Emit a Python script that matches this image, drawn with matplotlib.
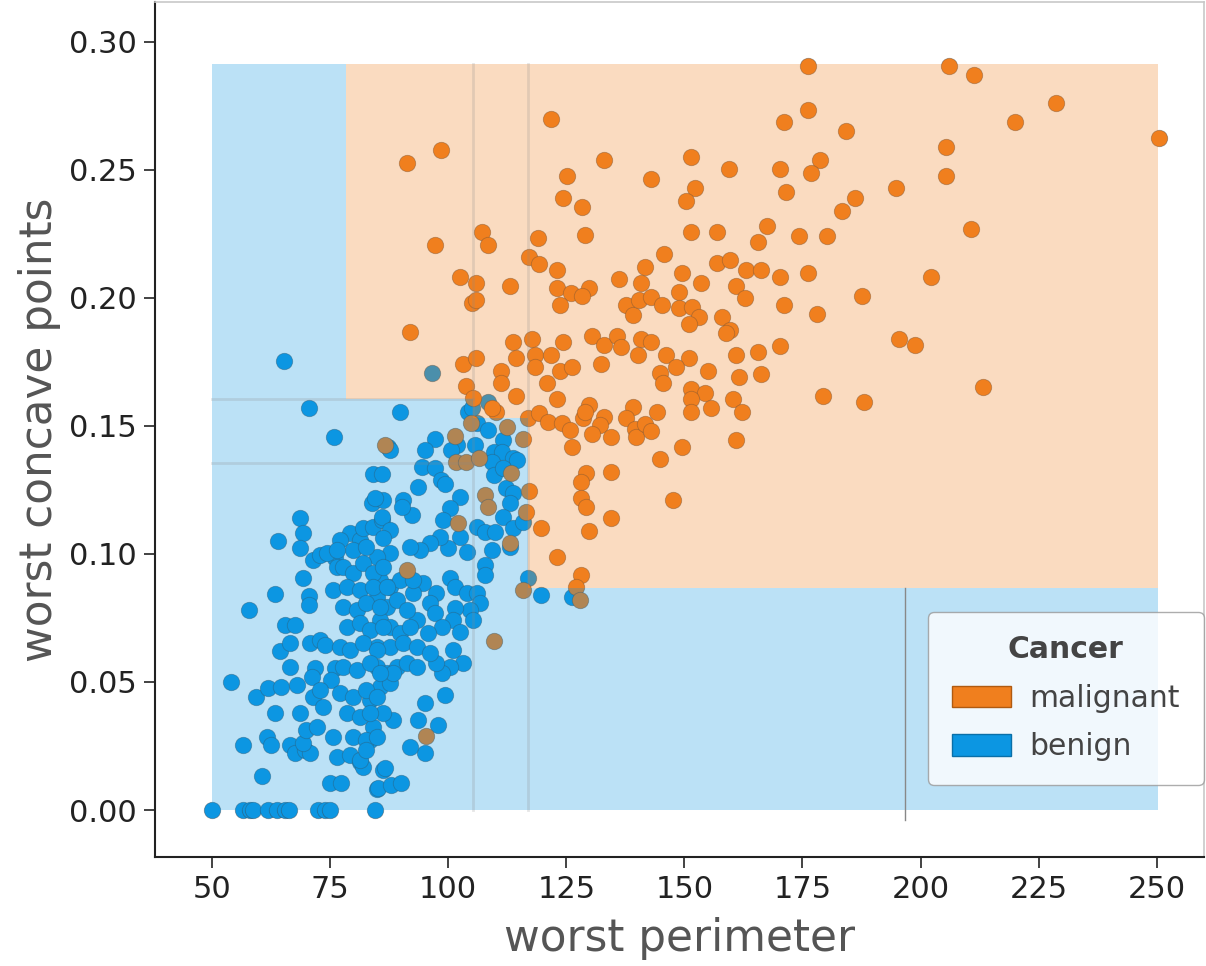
import matplotlib
matplotlib.use("Agg")
import matplotlib.pyplot as plt
from matplotlib.patches import Rectangle, Patch

# ---------------- data ----------------
malignant = [
    (176.2,0.2907),(206.0,0.2907),(211.3,0.2871),(228.6,0.2760),(219.9,0.2686),(250.5,0.2624),
    (176.2,0.2734),(171.1,0.2686),(184.2,0.2650),(205.3,0.2589),(178.8,0.2539),(170.2,0.2504),
    (176.8,0.2487),(205.3,0.2478),(171.6,0.2415),(194.7,0.2428),(186.2,0.2392),(183.4,0.2341),
    (174.2,0.2243),(180.1,0.2243),(210.6,0.2268),(170.2,0.2083),(176.2,0.2099),(202.1,0.2083),
    (187.5,0.2009),(171.1,0.1973),(178.1,0.1936),(195.4,0.1840),(198.8,0.1815),
    (170.2,0.1813),(179.4,0.1617),(188.1,0.1593),(213.3,0.1654),
    (91.2,0.2526),(98.5,0.2576),(121.7,0.2698),(133.0,0.2539),(125.1,0.2478),(151.4,0.2552),
    (143.0,0.2465),(159.5,0.2503),(124.4,0.2392),(128.4,0.2357),(152.2,0.2428),(150.3,0.2379),
    (97.2,0.2207),(107.1,0.2258),(108.5,0.2207),(119.1,0.2233),(129.0,0.2244),(151.5,0.2258),
    (156.8,0.2258),(167.5,0.2281),(165.5,0.2220),(145.6,0.2172),(102.5,0.2083),(105.8,0.2060),
    (113.1,0.2047),(117.2,0.2159),(119.3,0.2133),(123.1,0.2109),(141.6,0.2122),(149.5,0.2096),
    (156.8,0.2135),(159.6,0.2148),(163.0,0.2109),(166.2,0.2109),(136.2,0.2073),(140.9,0.2060),
    (153.5,0.2060),(160.9,0.2048),(162.9,0.1999),(105.1,0.1979),(105.9,0.1992),(123.1,0.2038),
    (126.1,0.2018),(129.8,0.2038),(128.4,0.2009),(123.7,0.1973),(137.6,0.1973),(139.2,0.1934),
    (140.4,0.1992),(143.0,0.2002),(145.2,0.1973),(148.9,0.2025),(148.9,0.1962),(151.7,0.1966),
    (153.1,0.1927),(151.0,0.1898),(158.0,0.1927),(159.6,0.1875),(91.9,0.1865),
    (113.8,0.1827),(117.7,0.1840),(124.4,0.1827),(130.4,0.1853),(133.0,0.1816),(135.8,0.1853),
    (136.5,0.1810),(140.9,0.1840),(143.0,0.1827),(140.2,0.1777),(146.2,0.1777),(151.0,0.1764),
    (158.9,0.1862),(161.0,0.1777),(165.6,0.1790),(103.1,0.1741),(105.8,0.1764),(114.4,0.1764),
    (118.4,0.1777),(118.4,0.1729),(121.7,0.1777),(111.1,0.1716),(111.1,0.1666),(123.7,0.1716),
    (126.3,0.1729),(132.3,0.1741),(148.2,0.1729),(144.8,0.1706),(145.5,0.1666),(155.0,0.1716),
    (161.6,0.1693),(166.2,0.1703),(103.8,0.1656),(120.9,0.1666),(114.4,0.1617),(105.2,0.1608),
    (123.1,0.1605),(151.5,0.1643),(154.3,0.1630),(151.5,0.1605),(160.2,0.1605),(129.8,0.1582),
    (139.2,0.1573),(144.3,0.1556),(151.5,0.1556),(155.6,0.1569),(162.2,0.1556),(110.2,0.1556),
    (109.2,0.1569),(116.9,0.1530),(119.3,0.1552),(121.2,0.1517),(124.2,0.1511),(125.8,0.1484),
    (128.6,0.1530),(128.9,0.1556),(133.0,0.1534),(132.1,0.1504),(130.4,0.1469),(134.4,0.1458),
    (137.6,0.1530),(139.5,0.1487),(139.7,0.1456),(141.6,0.1508),(143.0,0.1482),(126.3,0.1419),
    (149.5,0.1419),(160.9,0.1445),(144.9,0.1371),(134.4,0.1322),(129.2,0.1315),(128.2,0.1283),
    (147.6,0.1211),(128.2,0.1217),(129.2,0.1185),(134.4,0.1139),(129.8,0.1090),(119.7,0.1100),
    (117.2,0.1247),(116.4,0.1165),(123.1,0.0990),(128.2,0.0918),(127.0,0.0872),(127.9,0.0820),
    (115.8,0.0859),
    (101.4,0.1461),(86.6,0.1426),(101.6,0.1361),(103.8,0.1361),(112.4,0.1495),(115.8,0.1448),
    (113.4,0.1315),(107.8,0.1230),(108.5,0.1185),(102.0,0.1120),(113.1,0.1042),(91.2,0.0937),
    (109.7,0.0661),(95.3,0.0289),(106.6,0.1375),(104.9,0.1510),
]
malignant_x = [p[0] for p in malignant]
malignant_y = [p[1] for p in malignant]

benign = [
    (65.3,0.1754),(70.6,0.1569),(75.9,0.1458),(87.3,0.1419),(84.1,0.1313),(85.9,0.1313),
    (83.8,0.1200),(86.3,0.1211),(68.6,0.1139),(69.3,0.1081),(63.9,0.1052),(68.6,0.1022),
    (79.2,0.1081),(81.3,0.1055),(82.0,0.1100),(84.1,0.1106),(85.9,0.1133),(71.4,0.0977),
    (72.9,0.0996),(76.0,0.0983),(76.4,0.0950),(69.3,0.0905),(63.3,0.0844),(57.9,0.0781),
    (70.6,0.0836),(70.6,0.0801),(75.7,0.0859),(65.4,0.0723),(67.6,0.0723),(64.4,0.0622),
    (66.5,0.0651),(70.7,0.0651),(72.9,0.0664),(73.9,0.0645),(66.5,0.0560),(71.8,0.0553),
    (71.1,0.0521),(76.0,0.0553),(75.3,0.0508),(54.0,0.0501),(59.3,0.0440),(61.9,0.0475),
    (64.7,0.0482),(67.9,0.0488),(63.3,0.0378),(68.6,0.0378),(71.4,0.0443),(72.9,0.0469),
    (73.6,0.0404),(56.6,0.0254),(61.6,0.0286),(62.6,0.0254),(66.5,0.0254),(67.6,0.0221),
    (69.7,0.0234),(70.7,0.0221),(69.3,0.0260),(70.0,0.0313),(72.2,0.0325),(75.7,0.0286),
    (76.4,0.0208),(79.2,0.0215),(81.3,0.0189),(82.0,0.0169),(60.5,0.0133),(75.0,0.0107),
    (77.4,0.0107),(84.9,0.0081),(86.3,0.0156),
    (50.1,0.0),(56.6,0.0),(58.0,0.0),(58.7,0.0),(61.9,0.0),(63.7,0.0),(65.4,0.0),(66.4,0.0),
    (72.5,0.0),(73.9,0.0),(75.0,0.0),(84.6,0.0),
    (89.8,0.1556),(104.2,0.1556),(106.0,0.1510),(108.5,0.1484),(97.2,0.1448),(95.1,0.1408),
    (87.7,0.1408),(101.8,0.1426),(100.7,0.1406),(105.7,0.1426),(111.7,0.1445),(109.6,0.1400),
    (111.3,0.1400),(113.8,0.1374),(114.5,0.1367),(109.2,0.1361),(109.6,0.1309),(111.7,0.1335),
    (94.4,0.1338),(97.2,0.1334),(93.6,0.1263),(98.5,0.1289),(99.3,0.1273),(102.5,0.1224),
    (112.3,0.1257),(113.8,0.1237),(113.1,0.1198),(90.5,0.1211),(92.3,0.1152),(90.2,0.1185),
    (85.9,0.1146),(84.5,0.1217),(100.4,0.1179),(98.9,0.1133),(106.0,0.1106),(107.8,0.1087),
    (109.9,0.1087),(111.7,0.1146),(113.8,0.1100),(115.9,0.1126),(113.1,0.1029),(109.2,0.1016),
    (107.8,0.0957),(107.8,0.0918),(103.9,0.1009),(102.5,0.1068),(100.0,0.1022),(98.3,0.1068),
    (96.1,0.1042),(94.0,0.1016),(91.9,0.1029),(87.7,0.1094),(86.3,0.1061),(87.7,0.1003),
    (84.9,0.0990),(100.4,0.0905),(101.4,0.0872),(103.9,0.0846),(106.0,0.0846),(106.7,0.0807),
    (104.6,0.0781),(105.3,0.0742),(101.4,0.0788),(101.1,0.0742),(102.5,0.0697),(97.5,0.0846),
    (96.1,0.0807),(94.7,0.0885),(92.6,0.0846),(97.2,0.0768),(98.6,0.0716),(95.8,0.0690),
    (93.3,0.0742),(101.1,0.0625),(103.2,0.0573),(100.4,0.0560),(98.6,0.0534),(97.5,0.0573),
    (99.3,0.0449),(95.1,0.0417),(93.7,0.0352),(97.9,0.0332),(95.1,0.0221),(91.9,0.0247),
    (88.4,0.0352),(86.3,0.0378),(86.6,0.0163),(85.2,0.0085),(88.0,0.0098),(90.1,0.0104),
    (85.6,0.0898),(87.7,0.0872),(89.8,0.0898),(92.6,0.0898),(84.9,0.0833),(87.0,0.0794),
    (89.1,0.0820),(91.2,0.0781),(85.6,0.0742),(87.7,0.0716),(89.8,0.0690),(91.9,0.0716),
    (84.9,0.0638),(87.7,0.0638),(90.5,0.0651),(93.3,0.0638),(96.1,0.0612),(84.9,0.0560),
    (87.0,0.0534),(89.1,0.0560),(91.2,0.0573),(93.3,0.0560),(85.6,0.0482),(87.7,0.0495),
    (83.4,0.0430),(88.4,0.0534),(83.4,0.0273),(84.1,0.0325),
    (77.8,0.0950),(79.9,0.0924),(82.0,0.0963),(84.1,0.0924),(86.3,0.0950),(78.5,0.0872),
    (81.3,0.0859),(84.1,0.0872),(87.0,0.0872),(77.8,0.0794),(80.6,0.0781),(82.7,0.0807),
    (85.6,0.0794),(78.5,0.0716),(81.3,0.0729),(83.4,0.0703),(86.3,0.0716),(77.1,0.0638),
    (79.2,0.0625),(82.0,0.0651),(84.9,0.0625),(77.8,0.0560),(80.6,0.0547),(83.4,0.0573),
    (85.6,0.0534),(77.1,0.0456),(79.9,0.0443),(82.7,0.0469),(84.9,0.0443),(78.5,0.0378),
    (81.3,0.0365),(83.4,0.0378),(79.9,0.0286),(82.7,0.0273),(84.9,0.0286),(81.3,0.0195),
    (82.7,0.0234),(77.1,0.1055),(79.9,0.1016),(82.7,0.1029),(74.3,0.1003),(76.4,0.1016),
    (119.7,0.0840),(126.3,0.0833),(116.9,0.0905),(96.5,0.1706),(108.5,0.1595),(105.0,0.1570),
]
benign_x = [p[0] for p in benign]
benign_y = [p[1] for p in benign]

# decision-tree leaves (x0, x1, y0, y1, class)
leaf_x0 = [50.0, 78.4, 105.2, 116.9, 50.0, 50.0, 105.2, 116.9, 196.7]
leaf_x1 = [78.4, 105.2, 116.9, 250.3, 105.2, 105.2, 116.9, 196.7, 250.3]
leaf_y0 = [0.1605, 0.1605, 0.153, 0.0867, 0.1355, 0.0, 0.0, 0.0, 0.0]
leaf_y1 = [0.2914, 0.2914, 0.2914, 0.2914, 0.1605, 0.1355, 0.153, 0.0867, 0.0867]
leaf_cls = ["benign", "malignant", "malignant", "malignant", "benign", "benign", "benign", "benign", "benign"]

split_vx = [105.2, 116.9]
split_hy = [0.1605, 0.1355]
split_hx_end = 105.2
lower_split_x = 196.7
lower_split_top = 0.0867

x_ticks = [50, 75, 100, 125, 150, 175, 200, 225, 250]
y_ticks = [0.00, 0.05, 0.10, 0.15, 0.20, 0.25, 0.30]

# ---------------- style ----------------
C_MAL = "#F07F1E"
C_BEN = "#0C96E2"
colors = {"malignant": C_MAL, "benign": C_BEN}

fig = plt.figure(figsize=(12.06, 9.66), dpi=100)
ax = fig.add_axes([0.1285, 0.1128, 0.8695, 0.8852])

edge = (0.25, 0.25, 0.25, 0.45)
ax.scatter(benign_x, benign_y, s=140, color=C_BEN, edgecolors=[edge], linewidths=0.6, zorder=2)
ax.scatter(malignant_x, malignant_y, s=140, color=C_MAL, edgecolors=[edge], linewidths=0.6, zorder=2)

for x0, x1, y0, y1, c in zip(leaf_x0, leaf_x1, leaf_y0, leaf_y1, leaf_cls):
    ax.add_patch(Rectangle((x0, y0), x1 - x0, y1 - y0, facecolor=colors[c],
                           alpha=0.28, edgecolor="none", zorder=3))

top = max(leaf_y1)
for vx in split_vx:
    ax.plot([vx, vx], [0, top], color="#8a8a8a", alpha=0.22, lw=2, zorder=4)
for hy in split_hy:
    ax.plot([min(leaf_x0), split_hx_end], [hy, hy], color="#8a8a8a", alpha=0.22, lw=2, zorder=4)
ax.plot([lower_split_x, lower_split_x], [-0.004, lower_split_top],
        color="#888888", lw=1, zorder=4)

ax.set_xlim(37.94, 259.9)
ax.set_ylim(-0.01836, 0.3156)
ax.set_xticks(x_ticks)
ax.set_xticklabels([str(t) for t in x_ticks])
ax.set_yticks(y_ticks)
ax.set_yticklabels([f"{t:.2f}" for t in y_ticks])
ax.tick_params(axis="both", labelsize=22, length=8, width=1.2, colors="#222222", pad=5)

ax.set_xlabel("worst perimeter", fontsize=31.5, color="#555555", labelpad=9)
ax.set_ylabel("worst concave points", fontsize=31.5, color="#555555", labelpad=6)

for s in ["left", "bottom"]:
    ax.spines[s].set_color("#222222")
    ax.spines[s].set_linewidth(1.5)
for s in ["top", "right"]:
    ax.spines[s].set_color("#c8c8c8")
    ax.spines[s].set_linewidth(1.2)

handles = [Patch(facecolor=C_MAL, edgecolor="#b05a10", label="malignant"),
           Patch(facecolor=C_BEN, edgecolor="#0a6fa8", label="benign")]
leg = ax.legend(handles=handles, title="Cancer", loc="lower right",
                bbox_to_anchor=(1.0, 0.084), borderaxespad=0.0,
                fontsize=21.5, title_fontproperties={"weight": "bold", "size": 21.5},
                frameon=True, fancybox=True, framealpha=0.8, edgecolor="#999999",
                borderpad=0.8, labelspacing=0.65, handlelength=2.0, handleheight=0.75,
                handletextpad=0.6)
for t in leg.get_texts():
    t.set_color("#444444")
leg.get_title().set_color("#444444")
leg.set_zorder(10)

fig.savefig("out.png", dpi=100)
